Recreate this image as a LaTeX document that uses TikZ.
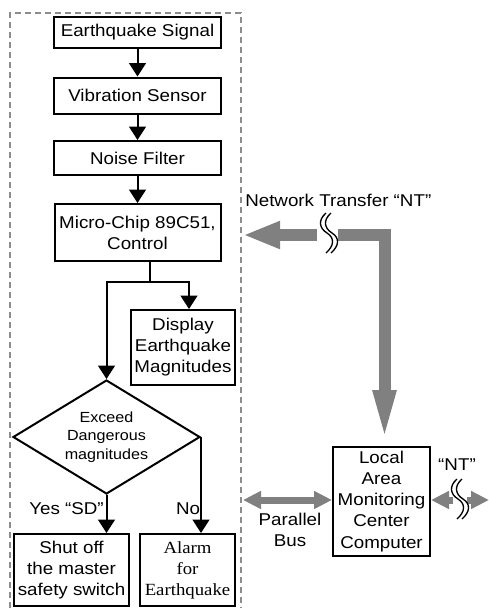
\documentclass[tikz,border=0pt]{standalone}
\usepackage{fontspec}
\setmainfont{Liberation Sans}[FakeStretch=1.1]
\newfontfamily\timesrm{Liberation Serif}[FakeStretch=1.1]
\usetikzlibrary{arrows.meta,shapes.geometric}
\definecolor{netgray}{HTML}{808080}
\definecolor{framegray}{HTML}{8C8C8C}

\tikzset{
  sz/.style 2 args={minimum width=#1*0.75pt, minimum height=#2*0.75pt},
  box/.style={draw, line width=1.5pt, align=center, inner sep=0pt,
    font=\fontsize{12.8}{15.8}\selectfont},
  lbl/.style={font=\fontsize{12.8}{15.8}\selectfont, inner sep=0pt},
  flow/.style={line width=1.5pt, -{Triangle[length=10pt,width=12.5pt]}},
  garr/.style={draw=netgray, line width=9pt, line join=miter},
  bus/.style={draw=netgray, line width=5.25pt},
  brk/.pic={
    \draw[line width=1pt] (-1,-20) .. controls (-9,-13) and (-8,-5) .. (0,0)
      .. controls (8,5) and (7,13) .. (-1,20);
    \draw[line width=1pt] (4,-20) .. controls (-4,-13) and (-3,-5) .. (5,0)
      .. controls (13,5) and (12,13) .. (4,20);
  }
}

\begin{document}
\begin{tikzpicture}[x=0.75pt,y=-0.75pt]
  \useasboundingbox (0,0) rectangle (489,608);

  % sensor unit (dashed frame)
  \draw[framegray, line width=1.1pt, dash pattern=on 4.5pt off 3pt] (10,608) |- (241,13) -- (241,608);

  \node[box, sz={167}{31}] (sig) at (137.5,32.5) {Earthquake Signal};
  \node[box, sz={167}{36}] (sen) at (137.5,95.5) {Vibration Sensor};
  \node[box, sz={167}{34}] (flt) at (137.5,158) {Noise Filter};
  \node[box, sz={166}{57}] (mcu) at (137.5,232.5) {Micro-Chip 89C51,\\Control};
  \node[box, sz={104}{75}] (dsp) at (183,347.5) {Display\\Earthquake\\Magnitudes};
  \node[box, diamond, aspect=1.64, sz={187}{114},
    font=\fontsize{11}{14}\selectfont] (dia) at (106.5,437) {Exceed\\Dangerous\\magnitudes};
  \node[box, sz={115}{72}] (shut) at (71.5,570) {Shut off\\the master\\safety switch};
  \node[box, sz={95}{72}, font=\timesrm\fontsize{12.8}{15.8}\selectfont] (alarm) at (187.5,570) {Alarm\\for\\Earthquake};

  \draw[flow] (sig) -- (sen);
  \draw[flow] (sen) -- (flt);
  \draw[flow] (flt) -- (mcu);

  \coordinate (split) at (150,282);
  \draw[flow] (mcu.south -| split) -- (split) -| (dia.north);
  \draw[flow] (split) -| ([xshift=4.5pt]dsp.north);

  \draw[flow] (dia.south) -- (dia.south |- shut.north);
  \draw[flow] (dia.east) -- (dia.east |- alarm.north);
  \node[lbl, anchor=east] (yes) at (104,509) {Yes “SD”};
  \node[lbl] (no) at (188,509) {No};

  % monitoring center
  \node[box, sz={97}{109}] (lac) at (381.5,501.5) {Local\\Area\\Monitoring\\Center\\Computer};

  % network transfer
  \coordinate (ntTip) at (243,235);
  \coordinate (brkL) at (317,235);
  \coordinate (brkR) at (338,235);
  \coordinate (bend) at (384.5,235);
  \draw[garr, -{Triangle[length=27.75pt,width=19pt]}] (brkL) -- (ntTip);
  \draw[garr, -{Triangle[length=42pt,width=15pt]}] (brkR) -- (bend) -- (bend |- lac.north);
  \pic at (327,233) {brk};
  \node[lbl, anchor=west] (nt) at (245,200) {Network Transfer “NT”};

  % parallel bus
  \coordinate (busL) at (243,500);
  \draw[bus, {Triangle[length=13.5pt,width=12.75pt]}-{Triangle[length=13.5pt,width=12.75pt]}] (busL) -- (busL -| lac.west);
  \node[lbl, align=center] (pbus) at (290,530) {Parallel\\Bus};

  % outside link
  \coordinate (ntA) at (453,500);
  \coordinate (ntB) at (467,500);
  \coordinate (ntEnd) at (489,500);
  \draw[bus, -{Triangle[length=13.5pt,width=12.75pt]}] (ntA) -- (ntA -| lac.east);
  \draw[bus, -{Triangle[length=13.5pt,width=12.75pt]}] (ntB) -- (ntEnd);
  \pic at (458,499) {brk};
  \node[lbl] (nt2) at (457,465) {“NT”};
\end{tikzpicture}
\end{document}
